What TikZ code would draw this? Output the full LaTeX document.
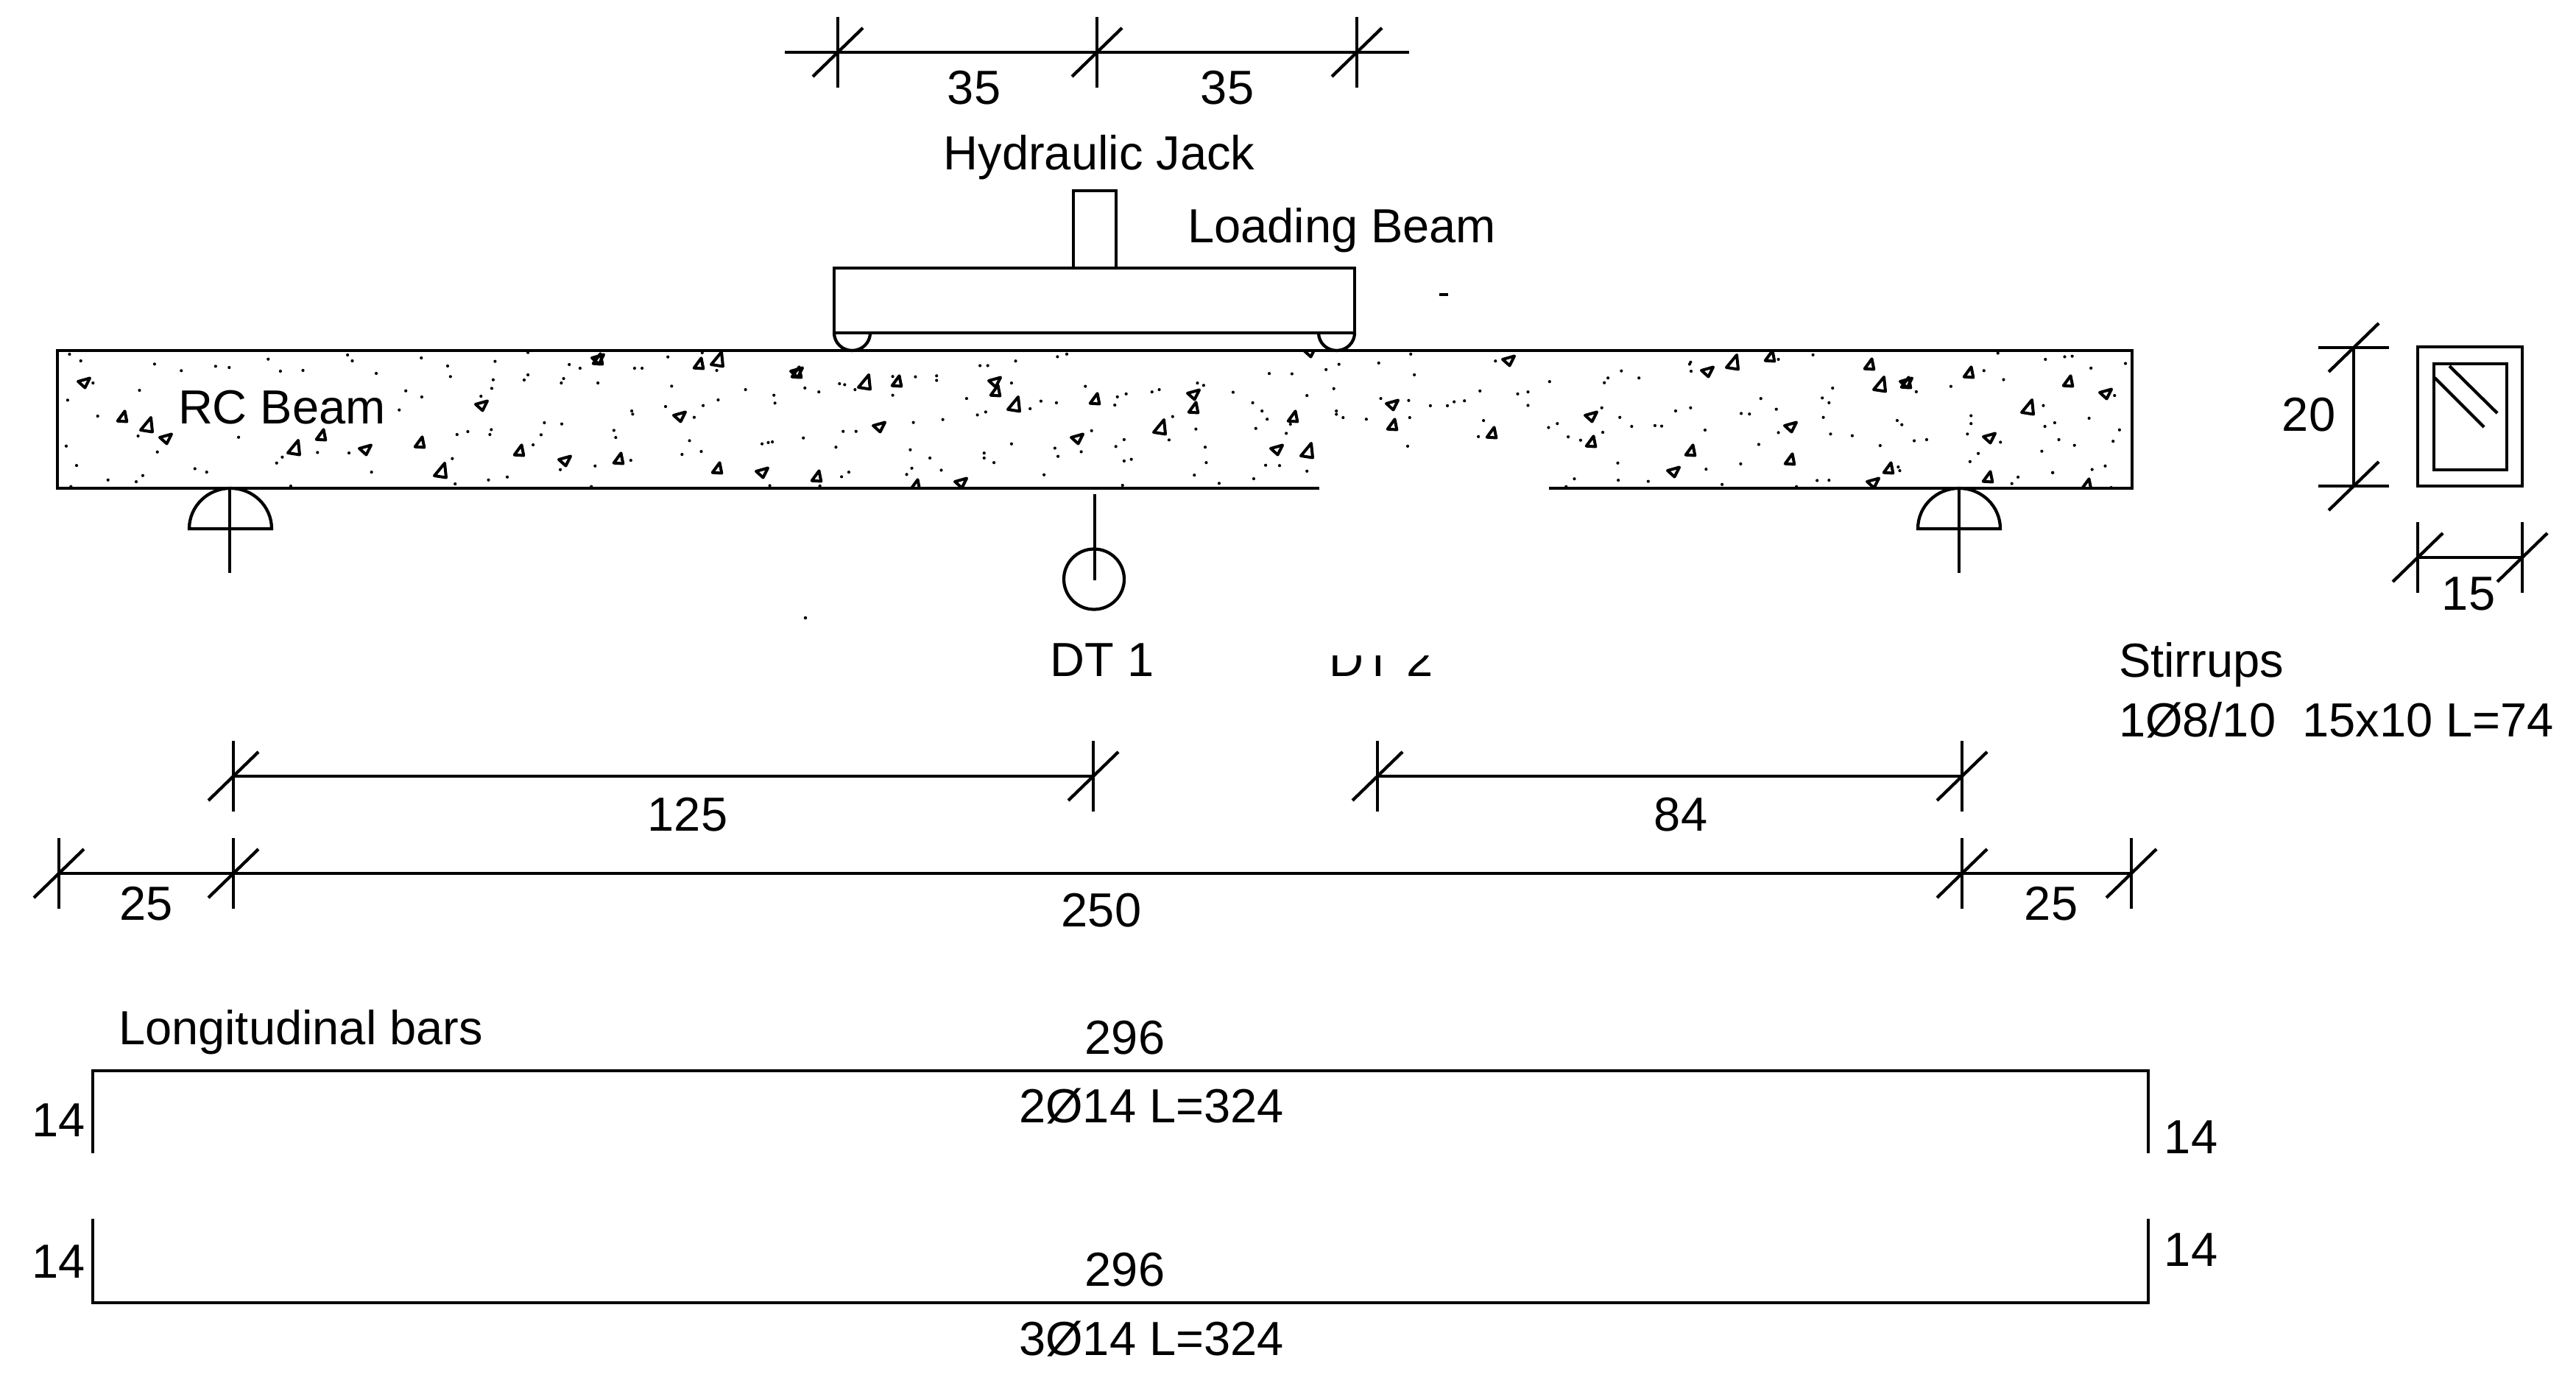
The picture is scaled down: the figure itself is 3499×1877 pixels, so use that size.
\documentclass[tikz,border=0pt]{standalone}
\usepackage{fontspec}
\setmainfont{Liberation Sans}
\tikzset{
  lbl/.style={inner sep=0pt,anchor=base,font=\fontsize{13}{15}\selectfont},
  lblw/.style={lbl,anchor=base west},
  ln/.style={line width=0.85pt,line join=miter},
  conc/.style={line width=0.8pt,line join=round},
  trgsmall/.pic={\draw[conc] (3.5,-7.7) -- (-6.3,5.7) -- (6.3,6.5) -- cycle;},
  trgbig/.pic={\draw[conc] (6,-10) -- (-8,7) -- (8,9.5) -- cycle;},
  trgleft/.pic={\draw[conc] (-8,-2) -- (8,-6.5) -- (1.5,6.5) -- cycle;},
}
\newcommand{\dimtick}[2]{\draw[ln] (#1,#2-48) -- (#1,#2+48); \draw[ln] (#1-34,#2+33) -- (#1+34,#2-33);}
\newcommand{\dimtickh}[2]{\draw[ln] (#1-48,#2) -- (#1+48,#2); \draw[ln] (#1-34,#2+33) -- (#1+34,#2-33);}
\begin{document}
\begin{tikzpicture}[x=0.2pt,y=0.2pt,yscale=-1,xscale=1]
\useasboundingbox (0,0) rectangle (3499,1877);

% concrete
\begin{scope}
\clip (78,476) rectangle (2896,663);
\foreach \a/\b in {166/566,436/591,570/601,705/612,840/623,949/494,974/636,1109/647,1218/518,1243/659,1352/531,1487/542,1621/554,1756/566,1891/577,2026/588,2161/600,2296/612,2431/624,2565/636,2700/648,2404/484,2539/495,2674/506,2809/518,2834/658,812/488,1082/506,2589/520}
  \pic[transform shape] at (\a,\b) {trgsmall};
\foreach \a/\b in {199/577,399/608,598/639,974/488,1174/519,1377/549,1575/580,1775/612,2353/492,2553/522,2754/553}
  \pic[transform shape] at (\a,\b) {trgbig};
\foreach \a/\b in {114/520,225/596,496/611,654/551,767/626,812/488,923/566,1035/642,1194/580,1305/656,1351/519,1463/596,1621/536,1734/611,1082/506,1891/550,2049/490,1779/478,2161/566,2273/641,2319/505,2432/580,2544/656,2589/520,2702/595,2860/535}
  \pic[transform shape] at (\a,\b) {trgleft};
% dots, left part
\begin{scope}[shift={(0,440)},x=0.1276pt,y=0.0667pt]
\foreach \a/\b in {148/123,172/150,329/163,386/190,459/172,488/177,571/143,597/192,645/189,740/126,750/150,801/201,897/138,953/171,959/214,1054/152,1124/116,1212/165,1235/180,1351/180,1367/180,1422/134,1495/117,1526/189,297/270,144/310,208/375,294/456,508/461,141/497,335/521,163/576,415/589,440/603,304/617,230/635,290/642,151/662,619/660,601/542,589/566,676/523,743/525,791/603,864/272,898/297,850/350,963/548,969/651,1040/635,1080/623,1050/227,1047/262,1024/294,1124/207,1116/228,1200/222,1195/240,1273/240,1430/253,1529/309,1417/336,1497/332,1345/354,1347/367,1478/380,973/450,996/438,1046/430,1043/450,1159/402,1196/407,1152/451,1135/492,1307/433,1311/462,1468/475,1452/531,1493/519,1343/555,1267/578,1193/593,1259/662,198/240}
  \fill (\a,\b) circle[radius=0.42pt];
\end{scope}
% dots, middle part
\begin{scope}[shift={(1000,0)},x=0.1403pt,y=0.0893pt]
\foreach \a/\b in {640/1077,622/1085,472/1112,487/1112,541/1098,18/1185,133/1180,160/1192,73/1202,75/1226,200/1167,210/1170,230/1185,303/1145,303/1202,347/1146,388/1143,388/1157,533/1165,446/1212,590/1220,620/1225,569/1243,483/1253,467/1262,400/1276,343/1285,207/1312,232/1312,130/1332,50/1350,62/1346,70/1344,193/1360,337/1368,375/1393,533/1350,480/1378,480/1393,499/1407,397/1430,340/1424,330/1443,218/1436,204/1450,162/1478,65/1477,596/1444,748/1476,617/1363,623/1388,668/1374,688/1310,751/1337,735/1358,751/1402,765/1397,676/1175,738/1207,733/1232,755/1198,805/1192,819/1185,893/1165,905/1172,962/1193,1000/1225,1018/1250,1028/1275,1006/1303,1065/1318,1073/1290,890/1305,838/1338,845/1267,908/1360,910/1407,887/1445,935/1470,1002/1456,1025/1415,1052/1416,1105/1433,1105/1203,1157/1182,1032/1136,1076/1137,1142/1124,1167/1108,1244/1104,1306/1077,1313/1140,1302/1218,1248/1212,1344/1234,1377/1234,1390/1222,1410/1219,1440/1189,1513/1198,1533/1192,1533/1233,1470/1098,1162/1250,1162/1260,1175/1270,1220/1275,1304/1270,1447/1279,1300/1357,1437/1328}
  \fill (\a,\b) circle[radius=0.42pt];
\end{scope}
% dots, right part
\begin{scope}[shift={(1700,400)},x=0.1403pt,y=0.0765pt]
\foreach \a/\b in {577/309,690/296,683/313,716/271,750/296,850/240,848/247,851/272,1020/230,1087/214,1445/208,1537/230,1418/270,1456/302,1354/326,1287/345,1125/332,986/369,1105/367,1118/384,1016/407,1107/436,948/422,964/424,850/402,821/413,678/402,713/436,736/468,781/465,794/467,878/481,592/458,575/472,613/505,637/517,680/489,1020/490,1121/495,1163/501,982/532,1217/536,1283/519,1307/515,1250/447,1259/462,1393/430,1393/458,1386/495,1450/524,1536/468,1555/455,1563/515,1530/556,1533/394,1407/564,1391/593,1252/612,1255/625,1551/632,1484/648,1472/671,709/598,947/601,880/620,625/654,710/659,768/663,609/682,911/674,1055/682,1095/660,1118/659}
  \fill (\a,\b) circle[radius=0.42pt];
\end{scope}
\begin{scope}[shift={(2700,420)},x=0.1019pt,y=0.0791pt]
\foreach \a/\b in {205/163,225/161,275/202,367/186,338/296,270/374,351/414,334/453,231/467,278/550,313/538,173/561,329/612}
  \fill (\a,\b) circle[radius=0.42pt];
\end{scope}
\end{scope}

% RC beam
\draw[ln] (78,476) rectangle (2896,663);
\node[lblw] (rcbeam) at (241,575) {RC Beam};

% supports
\draw[ln] (257,718) arc[start angle=180,end angle=360,x radius=56,y radius=55] -- cycle;
\draw[ln] (312,663) -- (312,778);
\draw[ln] (2605,718) arc[start angle=180,end angle=360,x radius=56,y radius=55] -- cycle;
\draw[ln] (2661,663) -- (2661,778);

% displacement transducers
\draw[ln] (1487,671) -- (1487,788);
\draw[ln] (1486,786.5) circle (41);
\node[lbl] (dtone) at (1497,918) {DT 1};
\node[lbl] (dttwo) at (1876,918) {DT 2};
\fill[white] (1792,609) rectangle (2104,890);
\fill (1094,839) circle[radius=0.45pt];

% jack and loading beam
\draw[ln] (1458,364) -- (1458,259) -- (1516,259) -- (1516,364);
\draw[ln] (1133,364) rectangle (1840,452);
\draw[ln] (1133,452) arc[start angle=180,end angle=0,x radius=24.5,y radius=24];
\draw[ln] (1791,452) arc[start angle=180,end angle=0,x radius=24.5,y radius=24];
\draw[ln] (1955,400) -- (1967,400);
\node[lbl] (jack) at (1493,231) {Hydraulic Jack};
\node[lblw] (loadbeam) at (1612,330) {Loading Beam};

% top dimension
\draw[ln] (1066,71) -- (1914,71);
\foreach \a in {1138,1490,1843} {\dimtick{\a}{71}}
\node[lbl] (topa) at (1323,142) {35};
\node[lbl] (topb) at (1667,142) {35};

% section
\draw[ln] (3284,471) rectangle (3426,660);
\draw[ln] (3306,494) rectangle (3405,638);
\draw[ln] (3307,513) -- (3374,580);
\draw[ln] (3327,497) -- (3392,561);
\draw[ln] (3197,472) -- (3197,660);
\dimtickh{3197}{472}
\dimtickh{3197}{660}
\node[lbl] (secd) at (3136,585) {20};
\draw[ln] (3284,757) -- (3426,757);
\dimtick{3284}{757}
\dimtick{3426}{757}
\node[lbl] (secb) at (3353,828) {15};
\node[lblw] (stirr) at (2877,919) {Stirrups};
\node[lblw] (stirrb) at (2877,1000) {1Ø8/10\ \ 15x10 L=74};

% span dimensions
\draw[ln] (317,1054) -- (1485,1054);
\draw[ln] (1871,1054) -- (2665,1054);
\foreach \a in {317,1485,1871,2665} {\dimtick{\a}{1054}}
\node[lbl] (dima) at (934,1128) {125};
\node[lbl] (dimb) at (2283,1128) {84};
\draw[ln] (80,1186) -- (2895,1186);
\foreach \a in {80,317,2665,2895} {\dimtick{\a}{1186}}
\node[lbl] (dimc) at (199,1249) {25};
\node[lbl] (dimd) at (1496,1258) {250};
\node[lbl] (dime) at (2786,1249) {25};

% longitudinal bars
\node[lblw] (longbars) at (160,1418) {Longitudinal bars};
\draw[ln] (126,1566) -- (126,1454) -- (2918,1454) -- (2918,1566);
\draw[ln] (126,1655) -- (126,1769) -- (2918,1769) -- (2918,1655);
\node[lbl] (bara) at (80,1543) {14};
\node[lbl] (barb) at (2976,1566) {14};
\node[lbl] (barc) at (80,1735) {14};
\node[lbl] (bard) at (2976,1719) {14};
\node[lbl] (bare) at (1528,1431) {296};
\node[lbl] (barf) at (1564,1524) {2Ø14 L=324};
\node[lbl] (barg) at (1528,1746) {296};
\node[lbl] (barh) at (1564,1840) {3Ø14 L=324};

\end{tikzpicture}
\end{document}
